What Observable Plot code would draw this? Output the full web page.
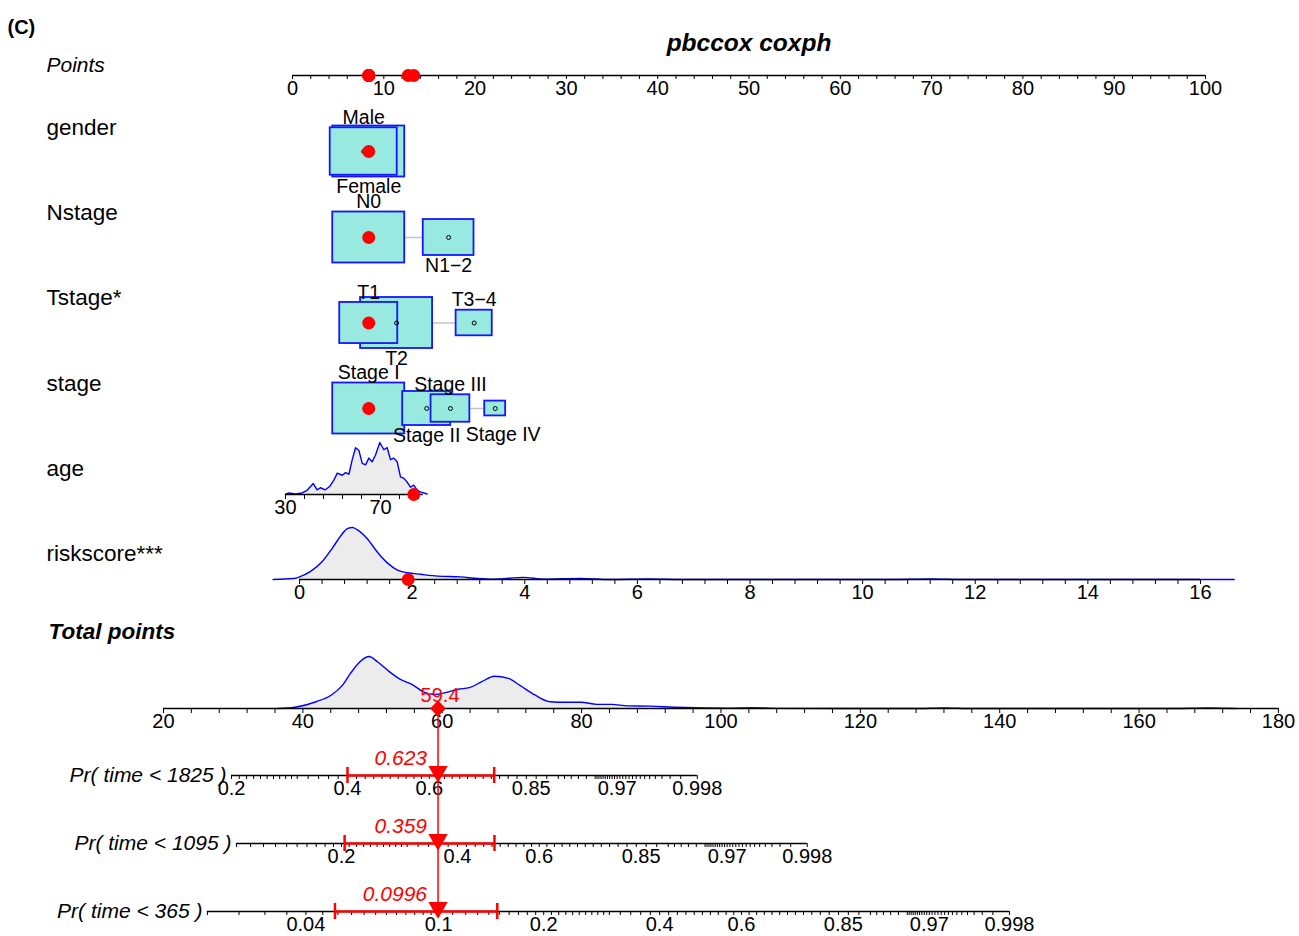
<!DOCTYPE html>
<html>
<head>
<meta charset="utf-8">
<script src="https://cdn.jsdelivr.net/npm/d3@7"></script>
<script src="https://cdn.jsdelivr.net/npm/@observablehq/plot@0.6"></script>
<style>
  html, body { margin: 0; padding: 0; background: #fff; }
  svg { display: block; }
</style>
</head>
<body>
<div id="chart"></div>
<script>
// ---------------- DATA ----------------
const title = "pbccox coxph";
const panelTag = "(C)";

const pointsTicks = d3.range(0, 101, 2);
const pointsTickLabels = d3.range(0, 101, 10);

const genderLevels = ["Male", "Female"];
const genderPoints = [7.8, 8.35];
const genderCounts = [232, 268];

const nstageLevels = ["N0", "N1\u22122"];
const nstagePoints = [8.35, 17.1];
const nstageCounts = [334, 166];

const tstageLevels = ["T1", "T2", "T3\u22124"];
const tstagePoints = [8.35, 11.4, 19.9];
const tstageCounts = [170, 262, 66];

const stageLevels = ["Stage I", "Stage II", "Stage III", "Stage IV"];
const stagePoints = [8.35, 14.7, 17.3, 22.2];
const stageCounts = [272, 121, 79, 23];

const obsGender = "Female";
const obsNstage = "N0";
const obsTstage = "T1";
const obsStage = "Stage I";
const obsAge = 84;
const obsRisk = 1.93;
const obsTotal = 59.4;

// age: value -> points (two anchor pairs)
const ageAnchors = [30, 70];
const ageAnchorPoints = [-0.77, 9.64];
const ageTicks = [30, 38, 46, 54, 62, 70, 78, 86];
const ageTickLabels = [30, 70];
const ageAxisEnd = 88;
const ageDensX = [30.0, 31.4, 34.2, 37.0, 39.1, 41.7, 43.3, 44.7, 46.8, 48.7, 50.3, 51.8, 53.9, 55.3, 56.7, 58.1, 59.5, 60.9, 62.3, 63.7, 65.1, 66.5, 67.9, 69.7, 71.4, 72.8, 74.2, 75.6, 77.0, 78.4, 79.8, 81.2, 82.6, 84.0, 85.5, 86.8, 89.6];
const ageDensY = [0.00, 0.03, 0.01, 0.03, 0.08, 0.21, 0.09, 0.13, 0.09, 0.16, 0.27, 0.41, 0.37, 0.42, 0.39, 0.67, 0.90, 0.85, 0.60, 0.57, 0.70, 0.63, 0.76, 1.00, 0.86, 0.90, 0.67, 0.70, 0.63, 0.34, 0.31, 0.24, 0.14, 0.18, 0.08, 0.05, 0.01];

// riskscore
const riskAnchors = [0, 16];
const riskAnchorPoints = [0.77, 99.45];
const riskTicks = d3.range(0, 41).map(i => i * 0.4);
const riskTickLabels = [0, 2, 4, 6, 8, 10, 12, 14, 16];
const riskDensX = [-0.47, -0.10, 0.0, 0.19, 0.40, 0.58, 0.76, 0.85, 0.94, 1.02, 1.20, 1.38, 1.56, 1.74, 1.92, 2.15, 2.45, 2.86, 3.16, 3.45, 3.98, 4.34, 4.99, 5.52, 6.2, 6.8, 10.5, 11.2, 11.8, 16.0, 16.6];
const riskDensY = [0.0, 0.02, 0.05, 0.15, 0.34, 0.60, 0.88, 0.98, 1.00, 0.96, 0.79, 0.53, 0.32, 0.18, 0.13, 0.10, 0.065, 0.05, 0.02, 0.006, 0.04, 0.006, 0.02, 0.0, 0.01, 0.0, 0.0, 0.01, 0.0, 0.0, 0.0];

// total points
const totalAnchors = [20, 180];
const totalAnchorPoints = [-14.13, 107.99];
const totalTicks = d3.range(20, 181, 4);
const totalTickLabels = d3.range(20, 181, 20);
const totalDensX = [36.3, 39.1, 41.9, 44.1, 45.7, 46.8, 48.2, 49.5, 50.7, 52.4, 54.0, 55.7, 57.3, 59.0, 60.6, 62.3, 63.9, 65.6, 67.5, 69.5, 71.1, 73.3, 75.5, 77.7, 79.9, 82.2, 84.3, 86.6, 89.9, 93.2, 96.5, 100.9, 104.5, 108, 128, 132, 136, 165, 170, 174];
const totalDensY = [0.0, 0.03, 0.13, 0.26, 0.45, 0.67, 0.90, 1.00, 0.90, 0.71, 0.56, 0.46, 0.32, 0.27, 0.31, 0.37, 0.40, 0.51, 0.62, 0.58, 0.45, 0.26, 0.13, 0.12, 0.12, 0.08, 0.08, 0.05, 0.045, 0.025, 0.013, 0.006, 0.015, 0.003, 0.0, 0.012, 0.0, 0.0, 0.01, 0.0];

// probabilities
const prTimes = [1825, 1095, 365];
const prObs = [0.623, 0.359, 0.0996];
const prObsText = ["0.623", "0.359", "0.0996"];
const prLow = [0.40, 0.204, 0.049];
const prHigh = [0.767, 0.486, 0.148];
const prAxisMin = [0.2, 0.1, 0.02];
const prAxisMax = 0.998;
const prTickLabels = [
  [0.2, 0.4, 0.6, 0.85, 0.97, 0.998],
  [0.2, 0.4, 0.6, 0.85, 0.97, 0.998],
  [0.04, 0.1, 0.2, 0.4, 0.6, 0.85, 0.97, 0.998]
];
const lpScale = 20.09; // total points per unit of linear predictor

// ---------------- LAYOUT ----------------
const L = {
  width: 1299, height: 936,
  xRange: [292, 1205],
  y: { title: 43, points: 75, gender: 151, Nstage: 237, Tstage: 322.5, stage: 408, age: 494, risk: 579, total: 708, pr: [775, 843, 911] },
  labelY: { Points: 65, gender: 127, Nstage: 212, Tstage: 297, stage: 383, age: 468, risk: 553, total: 631 },
  boxW: 72, boxH: 51, densH: 52,
  labelGap: 10,
  labelNudge: { "Stage IV": { dx: 8, dy: 9 } },
  font: "'Liberation Sans', Arial, Helvetica, sans-serif",
  fs: { tick: 20, box: 19.5, row: 22.5, points: 21, title: 24.5, pr: 21, tag: 20 }
};

// ---------------- HELPERS ----------------
const ptsPerPx = 100 / (L.xRange[1] - L.xRange[0]);
const ageToPts = d3.scaleLinear(ageAnchors, ageAnchorPoints);
const riskToPts = d3.scaleLinear(riskAnchors, riskAnchorPoints);
const totalToPts = d3.scaleLinear(totalAnchors, totalAnchorPoints);
const cll = p => Math.log(-Math.log(1 - p));
const prToPts = (i, p) => totalToPts(obsTotal + lpScale * (cll(p) - cll(prObs[i])));

function prMinorTicks(lo) {
  const out = [];
  for (let k = 1; k <= 998; k++) {
    const p = k / 1000;
    let ok;
    if (p < 0.1) ok = k % 5 === 0;
    else if (p < 0.3) ok = k % 10 === 0;
    else if (p < 0.9) ok = k % 20 === 0;
    else if (p < 0.95) ok = k % 10 === 0;
    else ok = k % 2 === 0;
    if (ok && p >= lo - 1e-9) out.push(p);
  }
  return out;
}

function axisMarks({ y, lo, hi, ticks, labels, toPts, tickLen = 5, fmt = d => String(d) }) {
  return [
    Plot.ruleY([{ a: toPts(lo), b: toPts(hi) }], { y: () => y, x1: "a", x2: "b", stroke: "#000", strokeWidth: 1.6 }),
    Plot.ruleX(ticks, { x: d => toPts(d), y1: () => y, y2: () => y + tickLen, stroke: "#000", strokeWidth: 1 }),
    Plot.text(labels, { x: d => toPts(d), y: () => y + 13.5, text: fmt, fontSize: L.fs.tick, fill: "#000" })
  ];
}

// ---------------- CATEGORICAL BOXES ----------------
const catRows = [
  { key: "gender", levels: genderLevels, pts: genderPoints, n: genderCounts, obs: obsGender },
  { key: "Nstage", levels: nstageLevels, pts: nstagePoints, n: nstageCounts, obs: obsNstage },
  { key: "Tstage", levels: tstageLevels, pts: tstagePoints, n: tstageCounts, obs: obsTstage },
  { key: "stage", levels: stageLevels, pts: stagePoints, n: stageCounts, obs: obsStage }
];
const boxes = catRows.flatMap(r => {
  const y = L.y[r.key];
  const nmax = d3.max(r.n);
  return r.levels.map((lev, i) => {
    const w = L.boxW * Math.sqrt(r.n[i] / nmax);
    const h = w * L.boxH / L.boxW;
    const nudge = L.labelNudge[lev] || { dx: 0, dy: 0 };
    const above = i % 2 === 0;
    return { row: r.key, level: lev, i, pts: r.pts[i], n: r.n[i],
      x1: r.pts[i] - w / 2 * ptsPerPx, x2: r.pts[i] + w / 2 * ptsPerPx,
      y, y1: y - h / 2, y2: y + h / 2, obs: lev === r.obs,
      lx: r.pts[i] + nudge.dx * ptsPerPx,
      ly: (above ? y - h / 2 - L.labelGap : y + h / 2 + L.labelGap) + nudge.dy };
  });
});
const boxesDraw = d3.sort(boxes, d => -d.n);
const connectors = catRows.map(r => ({ y: L.y[r.key], a: d3.min(r.pts), b: d3.max(r.pts) }));
const obsCat = boxes.filter(d => d.obs);

const obsPointsRow = [...obsCat.map(d => d.pts), ageToPts(obsAge), riskToPts(obsRisk)];

// densities
const ageDens = ageDensX.map((a, i) => ({ x: ageToPts(a), y: L.y.age - ageDensY[i] * L.densH }));
const riskDens = riskDensX.map((a, i) => ({ x: riskToPts(a), y: L.y.risk - riskDensY[i] * L.densH }));
const totalDens = totalDensX.map((a, i) => ({ x: totalToPts(a), y: L.y.total - totalDensY[i] * L.densH }));

function densityMarks(data, base, curve) {
  return [
    Plot.area(data, { x1: "x", y1: () => base, y2: "y", fill: "#ececec", curve }),
    Plot.line(data, { x: "x", y: "y", stroke: "#0000ff", strokeWidth: 1.4, curve })
  ];
}

// ---------------- MARKS ----------------
const rowLabels = [
  { t: "gender", y: L.labelY.gender }, { t: "Nstage", y: L.labelY.Nstage },
  { t: "Tstage*", y: L.labelY.Tstage }, { t: "stage", y: L.labelY.stage },
  { t: "age", y: L.labelY.age }, { t: "riskscore***", y: L.labelY.risk }
];

const marks = [
  Plot.text([panelTag], { frameAnchor: "top-left", dx: 7, dy: 19, textAnchor: "start", fontWeight: "bold", fontSize: L.fs.tag, fill: "#000" }),
  Plot.text([title], { x: () => 50, y: () => L.y.title, fontWeight: "bold", fontStyle: "italic", fontSize: L.fs.title, fill: "#000" }),
  Plot.text(["Points"], { frameAnchor: "left", y: () => L.labelY.Points, dx: 46, textAnchor: "start", fontStyle: "italic", fontSize: L.fs.points, fill: "#000" }),
  Plot.text(rowLabels, { frameAnchor: "left", y: "y", text: "t", dx: 46, textAnchor: "start", fontSize: L.fs.row, fill: "#000" }),
  Plot.text(["Total points"], { frameAnchor: "left", y: () => L.labelY.total, dx: 48, textAnchor: "start", fontStyle: "italic", fontWeight: "bold", fontSize: L.fs.row, fill: "#000" }),

  // points axis
  ...axisMarks({ y: L.y.points, lo: 0, hi: 100, ticks: pointsTicks, labels: pointsTickLabels, toPts: d => d, tickLen: 4 }),

  // categorical rows
  Plot.ruleY(connectors, { y: "y", x1: "a", x2: "b", stroke: "#c4c4c4", strokeWidth: 1.6 }),
  Plot.rect(boxesDraw, { x1: "x1", x2: "x2", y1: "y1", y2: "y2", fill: "#98e9df", stroke: "#1515ff", strokeWidth: 1.8 }),
  Plot.dot(boxes, { x: "pts", y: "y", r: 2, stroke: "#000", strokeWidth: 1, fill: "none" }),
  Plot.text(boxes, { x: "lx", y: "ly", text: "level", fontSize: L.fs.box, fill: "#000" }),
  Plot.dot(obsCat, { x: "pts", y: "y", r: 6.5, fill: "red" }),

  // age
  ...densityMarks(ageDens, L.y.age, "linear"),
  ...axisMarks({ y: L.y.age, lo: 30, hi: ageAxisEnd, ticks: ageTicks, labels: ageTickLabels, toPts: ageToPts }),
  Plot.dot([obsAge], { x: d => ageToPts(d), y: () => L.y.age, r: 6.5, fill: "red" }),

  // riskscore
  ...densityMarks(riskDens, L.y.risk, "monotone-x"),
  ...axisMarks({ y: L.y.risk, lo: 0, hi: 16, ticks: riskTicks, labels: riskTickLabels, toPts: riskToPts }),
  Plot.dot([obsRisk], { x: d => riskToPts(d), y: () => L.y.risk, r: 6.5, fill: "red" }),

  // total points
  ...densityMarks(totalDens, L.y.total, "monotone-x"),
  ...axisMarks({ y: L.y.total, lo: 20, hi: 180, ticks: totalTicks, labels: totalTickLabels, toPts: totalToPts }),

  // observed red dots on points axis
  Plot.dot(obsPointsRow, { x: d => d, y: () => L.y.points, r: 6.5, fill: "red" })
];

// probability rows
prTimes.forEach((t, i) => {
  const y = L.y.pr[i];
  const f = p => prToPts(i, p);
  marks.push(
    ...axisMarks({ y, lo: prAxisMin[i], hi: prAxisMax, ticks: prMinorTicks(prAxisMin[i]), labels: prTickLabels[i], toPts: f, tickLen: 4 }),
    Plot.text([`Pr( time < ${t} )`], { x: () => f(prAxisMin[i]), y: () => y, dx: -5, textAnchor: "end", fontStyle: "italic", fontSize: L.fs.pr, fill: "#000" }),
    Plot.ruleY([{ a: f(prLow[i]), b: f(prHigh[i]) }], { y: () => y, x1: "a", x2: "b", stroke: "red", strokeWidth: 2.5 }),
    Plot.ruleX([prLow[i], prHigh[i]], { x: f, y1: () => y - 8, y2: () => y + 8, stroke: "red", strokeWidth: 2.5 }),
    Plot.text([prObsText[i]], { x: () => f(prObs[i]), y: () => y - 17, dx: -11, textAnchor: "end", fill: "red", fontStyle: "italic", fontSize: L.fs.pr })
  );
});

// red vertical line, diamond, arrows
marks.push(
  Plot.ruleX([obsTotal], { x: d => totalToPts(d), y1: () => L.y.total, y2: () => L.y.pr[2] - 4, stroke: "red", strokeWidth: 1.5 }),
  Plot.dot([obsTotal], { x: d => totalToPts(d), y: () => L.y.total, symbol: "square", rotate: 45, r: 6.3, fill: "red" }),
  Plot.text([obsTotal], { x: d => totalToPts(d), y: () => L.y.total - 13, dx: 2, text: d => d.toFixed(1), fill: "red", fontSize: L.fs.tick }),
  ...prTimes.map((t, i) => Plot.dot([prObs[i]], { x: p => prToPts(i, p), y: () => L.y.pr[i] - 4, symbol: "triangle", rotate: 180, r: 7.2, fill: "red" }))
);

const chart = Plot.plot({
  width: L.width,
  height: L.height,
  margin: 0,
  x: { type: "linear", domain: [0, 100], range: L.xRange, axis: null },
  y: { type: "linear", domain: [0, L.height], range: [0, L.height], axis: null },
  style: { fontFamily: L.font, background: "#fff", color: "#000", overflow: "visible" },
  marks
});
document.getElementById("chart").appendChild(chart);
</script>
</body>
</html>
